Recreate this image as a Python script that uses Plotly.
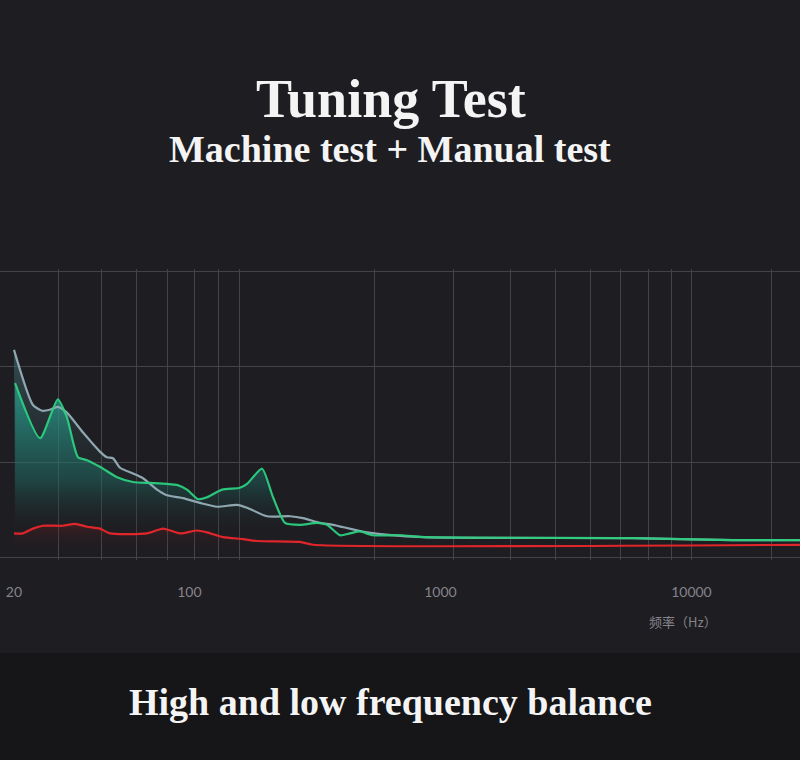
import plotly.graph_objects as go

# ---- data (frequency in Hz, level in arbitrary units) ----
grey_hz = [20, 23.8, 25.9, 27.8, 29.9, 32.5, 37.7, 44.0, 46.9, 49.6, 52.9, 59.6, 65.3,
           74.3, 81.4, 94.3, 110.2, 128.8, 154.7, 169.6, 203.7, 251.6, 283.4, 331.4,
           373.2, 509.8, 852, 5850, 14640, 27070]
grey_lvl = [2.18, 1.60, 1.54, 1.55, 1.58, 1.52, 1.31, 1.11, 1.05, 1.04, 0.94, 0.88, 0.83,
            0.71, 0.65, 0.62, 0.57, 0.53, 0.55, 0.52, 0.43, 0.43, 0.41, 0.36,
            0.34, 0.26, 0.21, 0.20, 0.18, 0.18]

green_hz = [20.2, 25.4, 29.9, 32.5, 36.0, 39.1, 44.0, 51.5, 59.6, 69.7, 81.4, 89.2, 97.8,
            108.2, 117.5, 134.9, 159.0, 169.6, 194.6, 215.3, 240.3, 275.7, 322.4, 353.3,
            398.0, 436.2, 478.1, 538.6, 690, 884, 5850, 14640, 27070]
green_lvl = [1.83, 1.25, 1.66, 1.47, 1.05, 1.02, 0.95, 0.84, 0.79, 0.78, 0.77, 0.76, 0.71,
             0.61, 0.63, 0.71, 0.73, 0.77, 0.93, 0.63, 0.36, 0.34, 0.36, 0.34,
             0.23, 0.25, 0.27, 0.23, 0.23, 0.21, 0.20, 0.18, 0.18]

red_hz = [20, 21.7, 23.8, 26.1, 31.3, 35.0, 39.1, 44.0, 48.2, 67.8, 78.5, 91.7, 107.2,
          117.5, 136.1, 163.5, 185.9, 275.7, 310.7, 27070]
red_lvl = [0.25, 0.25, 0.30, 0.33, 0.33, 0.35, 0.32, 0.30, 0.25, 0.25, 0.30, 0.25, 0.28,
           0.26, 0.21, 0.19, 0.17, 0.16, 0.13, 0.13]

tick_hz = [20, 100, 1000, 10000]
tick_labels = ["20", "100", "1000", "10000"]
grid_hz = [30, 44.8, 61.8, 82.1, 105.2, 130, 157.6, 548, 1132, 1893, 2861, 3979,
           5239, 6714, 8290, 10000, 20750]
level_grid = [0, 1, 2, 3]

# ---- styling ----
BG = "#1e1d21"
BAND = "#161518"
GRID = "#444348"
SERIF = "Liberation Serif, Times New Roman, serif"

fig = go.Figure()

# fills
fig.add_trace(go.Scatter(
    x=grey_hz, y=grey_lvl, mode="none", fill="tozeroy",
    line=dict(shape="spline", smoothing=0.6),
    fillgradient=dict(type="vertical", start=0.15, stop=2.1,
                      colorscale=[[0, "rgba(30,29,33,0)"], [1, "rgba(70,120,125,0.50)"]]),
    hoverinfo="skip"))
fig.add_trace(go.Scatter(
    x=green_hz, y=green_lvl, mode="none", fill="tozeroy",
    line=dict(shape="spline", smoothing=0.6),
    fillgradient=dict(type="vertical", start=0.2, stop=1.7,
                      colorscale=[[0, "rgba(30,29,33,0)"], [0.4, "rgba(30,120,110,0.40)"],
                                  [1, "rgba(40,170,150,0.65)"]]),
    hoverinfo="skip"))
fig.add_trace(go.Scatter(
    x=red_hz, y=red_lvl, mode="none", fill="tozeroy",
    line=dict(shape="spline", smoothing=0.6),
    fillgradient=dict(type="vertical", start=0.05, stop=0.34,
                      colorscale=[[0, "rgba(30,29,33,0)"], [1, "rgba(200,30,35,0.18)"]]),
    hoverinfo="skip"))

# lines
fig.add_trace(go.Scatter(x=red_hz, y=red_lvl, mode="lines",
                         line=dict(color="#e0262b", width=2.2, shape="spline", smoothing=0.6),
                         hoverinfo="skip"))
fig.add_trace(go.Scatter(x=grey_hz, y=grey_lvl, mode="lines",
                         line=dict(color="#8fa7b0", width=2.2, shape="spline", smoothing=0.6),
                         hoverinfo="skip"))
fig.add_trace(go.Scatter(x=green_hz, y=green_lvl, mode="lines",
                         line=dict(color="#2ccf80", width=2.2, shape="spline", smoothing=0.6),
                         opacity=0.95, hoverinfo="skip"))

# bottom band
fig.add_shape(type="rect", xref="paper", yref="paper", x0=-0.01, x1=1.01,
              y0=-0.71, y1=-0.3196, fillcolor=BAND, line=dict(width=0), layer="below")

# text
fig.add_annotation(text="Tuning Test", xref="paper", yref="paper", x=0.489, y=1.584,
                   showarrow=False, xanchor="center", yanchor="middle",
                   font=dict(family=SERIF, size=54, color="#f4f4f4", weight="bold"))
fig.add_annotation(text="Machine test + Manual test", xref="paper", yref="paper",
                   x=0.488, y=1.412, showarrow=False, xanchor="center", yanchor="middle",
                   font=dict(family=SERIF, size=38, color="#f4f4f4", weight="bold"))
fig.add_annotation(text="High and low frequency balance", xref="paper", yref="paper",
                   x=0.488, y=-0.488, showarrow=False, xanchor="center", yanchor="middle",
                   font=dict(family=SERIF, size=38, color="#f4f4f4", weight="bold"))
fig.add_annotation(text="频率（Hz）", xref="paper", yref="paper", x=0.854, y=-0.213,
                   showarrow=False, xanchor="center", yanchor="middle",
                   font=dict(family="Noto Sans CJK SC", size=13, color="#85848a"))

fig.update_layout(
    width=800, height=760,
    margin=dict(l=0, r=0, t=269, b=200, pad=0),
    paper_bgcolor=BG, plot_bgcolor=BG,
    showlegend=False,
    xaxis=dict(type="log", range=[1.2453, 4.4325],
               tickmode="array", tickvals=tick_hz, ticktext=tick_labels,
               showgrid=False, zeroline=False, showline=False,
               ticks="outside", ticklen=19, tickcolor=BG,
               tickfont=dict(family="Lato, Roboto, sans-serif", size=14, color="#85848a"),
               minor=dict(tickmode="array", tickvals=grid_hz, showgrid=True,
                          gridcolor=GRID, gridwidth=1, ticks="")),
    yaxis=dict(range=[-0.03, 3.03], tickmode="array", tickvals=level_grid,
               showgrid=True, gridcolor=GRID, gridwidth=1, zeroline=False,
               showticklabels=False, showline=False),
)

fig.write_html("out.html", config={"displayModeBar": False},
               post_script="document.body.style.margin='0';document.body.style.background='%s';" % BG)
